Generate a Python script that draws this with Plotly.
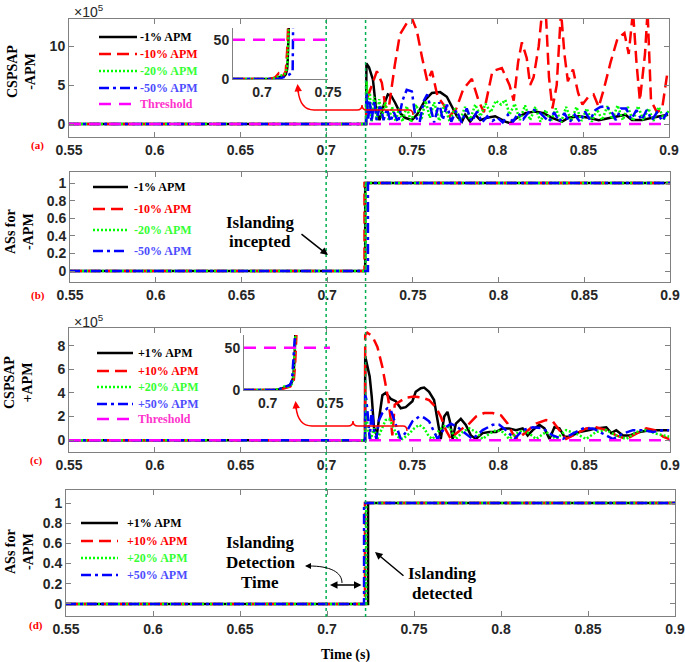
import plotly.graph_objects as go

# ---------------- DATA ----------------
t_start, t_end = 0.55, 0.9
threshold = 50          # raw units
scale = 1e5             # main CSPSAP axes are x10^5
x_ticks = [0.55, 0.6, 0.65, 0.7, 0.75, 0.8, 0.85, 0.9]
x_ticktext = ["0.55", "0.6", "0.65", "0.7", "0.75", "0.8", "0.85", "0.9"]
as_ticks = [0, 0.2, 0.4, 0.6, 0.8, 1]
as_ticktext = ["0", "0.2", "0.4", "0.6", "0.8", "1"]
islanding_t = 0.7
detection_t = 0.723

# (a) CSPSAP for -APM  (x10^5)
a_black_t = [0.55, 0.7233, 0.7235, 0.7250, 0.7273, 0.7292, 0.7311, 0.7340, 0.7360, 0.7380, 0.7403, 0.7432, 0.7461, 0.7500, 0.7530, 0.7578, 0.7617, 0.7665, 0.7704, 0.7734, 0.7763, 0.7792, 0.7811, 0.7840, 0.7870, 0.7899, 0.7938, 0.7986, 0.8045, 0.8074, 0.8113, 0.8162, 0.8220, 0.8269, 0.8318, 0.8376, 0.8415, 0.8474, 0.8532, 0.8590, 0.8649, 0.8707, 0.8746, 0.8784, 0.8843, 0.8901, 0.8960, 0.8995]
a_black_v = [0, 0, 7.8, 7.3, 5.7, 1.8, 0.5, 2.7, 3.8, 3.6, 2.7, 1.4, 0.8, 0.5, 1.2, 3.1, 4.0, 4.1, 3.5, 2.2, 1.0, 0.3, 1.2, 0.3, 1.2, 0.5, 0.8, 1.0, 0.3, 0.1, 0.8, 1.4, 1.6, 1.4, 0.8, 0.3, 0.8, 1.0, 0.8, 0.5, 0.8, 1.0, 1.2, 0.5, 0.5, 0.8, 1.0, 1.2]
a_red_t = [0.55, 0.7233, 0.7236, 0.7296, 0.7325, 0.7345, 0.7365, 0.7400, 0.7430, 0.7471, 0.7500, 0.7529, 0.7560, 0.7590, 0.7617, 0.7650, 0.7685, 0.7720, 0.7760, 0.7800, 0.7850, 0.7889, 0.7920, 0.7970, 0.8025, 0.8070, 0.8094, 0.8120, 0.8142, 0.8170, 0.8190, 0.8210, 0.8240, 0.8260, 0.8280, 0.8300, 0.8320, 0.8345, 0.8370, 0.8390, 0.8410, 0.8440, 0.8470, 0.8495, 0.8530, 0.8560, 0.8590, 0.8620, 0.8660, 0.8700, 0.8740, 0.8765, 0.8790, 0.8810, 0.8830, 0.8860, 0.8875, 0.8895, 0.8930, 0.8960, 0.8990]
a_red_v = [0, 0, 3.1, 6.8, 5.3, 2.3, 2.0, 7.5, 11.5, 13.0, 13.6, 12.0, 8.5, 5.5, 6.8, 3.5, 2.5, 1.0, 2.0, 4.5, 5.8, 3.0, 1.5, 6.8, 7.2, 5.0, 3.0, 8.0, 10.5, 8.5, 5.0, 6.0, 10.0, 14.5, 15.0, 6.0, 2.0, 5.0, 14.5, 9.0, 5.5, 7.0, 4.0, 2.5, 3.5, 3.8, 2.2, 4.5, 8.0, 11.0, 11.7, 9.0, 14.5, 8.0, 3.0, 9.0, 14.5, 3.0, 1.5, 2.0, 6.5]
a_green_t = [0.55, 0.7233, 0.7236, 0.7245, 0.7255, 0.7265, 0.7280, 0.7295, 0.7310, 0.7325, 0.7345, 0.7365, 0.7385, 0.7405, 0.7425, 0.7445, 0.7470, 0.7495, 0.7525, 0.7555, 0.7580, 0.7605, 0.7630, 0.7660, 0.7690, 0.7720, 0.7750, 0.7780, 0.7810, 0.7840, 0.7870, 0.7900, 0.7930, 0.7960, 0.7990, 0.8020, 0.8045, 0.8070, 0.8100, 0.8130, 0.8160, 0.8190, 0.8220, 0.8250, 0.8280, 0.8310, 0.8340, 0.8370, 0.8400, 0.8430, 0.8460, 0.8490, 0.8520, 0.8550, 0.8580, 0.8610, 0.8640, 0.8670, 0.8700, 0.8730, 0.8760, 0.8790, 0.8820, 0.8850, 0.8880, 0.8910, 0.8940, 0.8970, 0.9000]
a_green_v = [0, 0, 5.5, 2.0, 4.0, 0.3, 3.5, 0.5, 3.2, 0.8, 2.8, 0.5, 2.2, 0.3, 2.0, 0.3, 2.3, 0.2, 2.5, 0.5, 3.0, 0.8, 2.8, 0.4, 2.5, 0.3, 2.0, 0.4, 2.2, 0.6, 2.5, 1.0, 2.6, 1.5, 3.0, 2.5, 3.1, 1.2, 2.6, 0.5, 2.4, 0.5, 2.2, 0.3, 1.8, 0.3, 2.0, 0.2, 2.2, 0.4, 2.2, 0.4, 2.0, 0.3, 1.9, 0.5, 2.3, 0.6, 2.4, 0.5, 2.2, 0.4, 2.3, 0.5, 2.0, 0.4, 2.2, 0.6, 1.8]
a_blue_t = [0.55, 0.7233, 0.7236, 0.7245, 0.7255, 0.7265, 0.7280, 0.7295, 0.7315, 0.7335, 0.7355, 0.7375, 0.7395, 0.7420, 0.7445, 0.7470, 0.7500, 0.7520, 0.7545, 0.7570, 0.7590, 0.7610, 0.7630, 0.7660, 0.7680, 0.7705, 0.7730, 0.7760, 0.7790, 0.7820, 0.7850, 0.7880, 0.7910, 0.7940, 0.7970, 0.8000, 0.8030, 0.8060, 0.8090, 0.8120, 0.8150, 0.8180, 0.8210, 0.8240, 0.8270, 0.8300, 0.8330, 0.8360, 0.8390, 0.8420, 0.8450, 0.8480, 0.8510, 0.8540, 0.8570, 0.8600, 0.8630, 0.8660, 0.8690, 0.8720, 0.8750, 0.8780, 0.8810, 0.8840, 0.8870, 0.8900, 0.8930, 0.8960, 0.8990]
a_blue_v = [0, 0, 4.0, 0.5, 3.0, 0.3, 3.0, 0.5, 2.5, 0.5, 2.0, 0.3, 1.5, 0.2, 3.0, 4.4, 4.2, 1.0, 0.2, 3.0, 3.8, 2.0, 0.2, 2.8, 0.5, 2.5, 0.3, 1.8, 0.2, 2.0, 0.3, 1.6, 0.2, 1.0, 0.4, 0.8, 0.2, 1.2, 0.3, 1.4, 0.6, 1.5, 1.8, 1.6, 1.0, 0.3, 1.5, 0.3, 1.4, 0.2, 1.2, 0.3, 1.6, 0.5, 1.8, 2.2, 2.3, 1.8, 0.5, 2.0, 2.0, 0.6, 1.8, 0.5, 1.8, 0.5, 1.5, 0.4, 1.5]

# (a) inset (raw units)
ia_black_t = [0.678, 0.705, 0.709, 0.712, 0.715, 0.717, 0.718, 0.719, 0.7195, 0.720, 0.7205]
ia_black_v = [0, 0, 1, 2, 3, 4, 6, 12, 25, 45, 80]
ia_red_t = [0.678, 0.706, 0.710, 0.7125, 0.714, 0.716, 0.718, 0.7185, 0.719, 0.7195, 0.720]
ia_red_v = [0, 0, 2, 7, 3, 4, 10, 20, 35, 55, 80]
ia_green_t = [0.678, 0.706, 0.709, 0.712, 0.715, 0.717, 0.718, 0.719, 0.7195, 0.720, 0.7205]
ia_green_v = [0, 0, 1, 3, 4, 6, 8, 15, 30, 55, 80]
ia_blue_t = [0.678, 0.712, 0.716, 0.720, 0.7225, 0.7232, 0.7234, 0.7236]
ia_blue_v = [0, 0, 2, 5, 8, 10, 40, 80]

# (b) ASs for -APM : step instants
b_black_t = [0.55, 0.7222, 0.7222, 0.9]
b_red_t = [0.55, 0.7218, 0.7218, 0.9]
b_green_t = [0.55, 0.7225, 0.7225, 0.9]
b_blue_t = [0.55, 0.7238, 0.7238, 0.9]
as_v = [0, 0, 1, 1]

# (c) CSPSAP for +APM (x10^5)
c_black_t = [0.55, 0.7224, 0.7225, 0.7237, 0.7251, 0.7263, 0.7276, 0.7292, 0.7305, 0.7325, 0.7344, 0.7374, 0.7403, 0.7432, 0.7461, 0.7500, 0.7519, 0.7549, 0.7568, 0.7597, 0.7626, 0.7646, 0.7665, 0.7685, 0.7704, 0.7718, 0.7734, 0.7753, 0.7782, 0.7811, 0.7841, 0.7870, 0.7909, 0.7948, 0.7987, 0.8025, 0.8064, 0.8103, 0.8142, 0.8171, 0.8201, 0.8239, 0.8269, 0.8298, 0.8327, 0.8356, 0.8385, 0.8415, 0.8473, 0.8531, 0.8570, 0.8629, 0.8658, 0.8687, 0.8726, 0.8765, 0.8823, 0.8882, 0.8940, 0.8995]
c_black_v = [0, 0, 7.1, 6.2, 5.4, 3.7, 1.1, 0.4, 1.7, 3.8, 4.0, 3.5, 3.3, 2.7, 2.8, 3.3, 4.1, 4.4, 4.45, 4.1, 3.4, 1.7, 0.1, 2.0, 2.4, 1.6, 0.1, 1.4, 1.8, 1.3, 0.4, 0.1, 0.6, 0.7, 0.7, 1.0, 1.0, 0.85, 1.0, 0.4, 0.85, 1.3, 1.0, 0.1, 1.1, 1.0, 0.3, 0.3, 0.7, 0.85, 1.0, 1.1, 0.6, 0.85, 0.4, 0.4, 0.7, 0.85, 0.85, 0.85]
c_red_t = [0.55, 0.7224, 0.7225, 0.7237, 0.7267, 0.7296, 0.7325, 0.7344, 0.7360, 0.7374, 0.7383, 0.7397, 0.7432, 0.7461, 0.7510, 0.7558, 0.7597, 0.7636, 0.7665, 0.7695, 0.7724, 0.7753, 0.7792, 0.7831, 0.7870, 0.7918, 0.7967, 0.8016, 0.8055, 0.8084, 0.8113, 0.8162, 0.8220, 0.8278, 0.8317, 0.8356, 0.8395, 0.8454, 0.8512, 0.8570, 0.8629, 0.8687, 0.8745, 0.8804, 0.8862, 0.8911, 0.8960, 0.8995]
c_red_v = [0, 0, 8.9, 9.1, 8.8, 7.9, 6.2, 4.5, 3.4, 1.7, 0.4, 3.0, 3.3, 3.6, 3.7, 3.6, 3.4, 2.8, 2.0, 0.85, 0.1, 0.55, 1.0, 1.4, 2.0, 2.3, 2.3, 2.1, 1.4, 0.55, 0.1, 0.7, 1.4, 1.7, 1.6, 0.85, 0.1, 0.55, 1.0, 1.1, 0.85, 0.4, 0.1, 0.55, 1.0, 0.85, 0.3, 0.1]
c_green_t = [0.55, 0.7224, 0.7228, 0.7243, 0.7257, 0.7276, 0.7296, 0.7325, 0.7344, 0.7364, 0.7383, 0.7412, 0.7442, 0.7481, 0.7510, 0.7539, 0.7568, 0.7597, 0.7617, 0.7656, 0.7685, 0.7714, 0.7753, 0.7792, 0.7831, 0.7870, 0.7909, 0.7948, 0.7987, 0.8025, 0.8064, 0.8103, 0.8142, 0.8181, 0.8220, 0.8278, 0.8337, 0.8395, 0.8454, 0.8512, 0.8570, 0.8629, 0.8687, 0.8745, 0.8804, 0.8862, 0.8921, 0.8995]
c_green_v = [0, 0, 2.3, 0.85, 0.1, 1.0, 0.1, 1.0, 1.7, 1.8, 1.3, 0.3, 0.1, 0.55, 1.0, 1.3, 1.0, 0.3, 0.1, 0.85, 1.2, 1.1, 0.1, 0.7, 1.0, 0.7, 0.1, 0.55, 0.85, 0.7, 0.1, 0.55, 0.85, 0.55, 0.1, 0.7, 0.1, 0.85, 0.55, 0.1, 0.7, 0.85, 0.4, 0.1, 0.7, 0.85, 0.55, 0.3]
c_blue_t = [0.55, 0.7224, 0.7225, 0.7231, 0.7243, 0.7251, 0.7263, 0.7276, 0.7290, 0.7305, 0.7325, 0.7354, 0.7374, 0.7403, 0.7432, 0.7471, 0.7500, 0.7539, 0.7568, 0.7597, 0.7626, 0.7646, 0.7685, 0.7724, 0.7763, 0.7811, 0.7850, 0.7909, 0.7967, 0.8006, 0.8045, 0.8094, 0.8142, 0.8201, 0.8259, 0.8317, 0.8376, 0.8434, 0.8493, 0.8551, 0.8609, 0.8668, 0.8726, 0.8784, 0.8843, 0.8901, 0.8960, 0.8995]
c_blue_v = [0, 0, 3.8, 3.5, 1.7, 0.1, 2.6, 0.85, 0.1, 1.7, 2.3, 2.7, 2.55, 1.4, 0.1, 0.85, 1.6, 2.0, 1.9, 1.6, 0.7, 0.1, 1.0, 1.4, 1.1, 0.55, 0.1, 0.85, 1.3, 1.3, 0.85, 0.1, 0.85, 1.1, 1.0, 0.4, 0.1, 0.55, 1.0, 1.0, 0.55, 0.1, 0.55, 0.85, 0.85, 0.7, 0.85, 0.85]

# (c) inset (raw units)
ic_black_t = [0.681, 0.705, 0.710, 0.714, 0.717, 0.719, 0.7205, 0.7215, 0.722, 0.7225]
ic_black_v = [0, 0, 1, 3, 5, 8, 15, 35, 55, 80]
ic_red_t = [0.681, 0.706, 0.711, 0.715, 0.718, 0.720, 0.721, 0.722, 0.7228, 0.7235]
ic_red_v = [0, 0, 1, 3, 4, 6, 12, 30, 55, 80]
ic_green_t = [0.681, 0.706, 0.711, 0.714, 0.717, 0.7195, 0.7205, 0.7215, 0.722, 0.7228]
ic_green_v = [0, 0, 2, 5, 4, 7, 14, 35, 55, 80]
ic_blue_t = [0.681, 0.704, 0.709, 0.713, 0.716, 0.718, 0.7195, 0.7205, 0.7215, 0.7225]
ic_blue_v = [0, 0, 1, 3, 5, 6, 12, 30, 55, 80]

# (d) ASs for +APM : step instants
d_black_t = [0.55, 0.7236, 0.7236, 0.9]
d_red_t = [0.55, 0.7218, 0.7218, 0.9]
d_green_t = [0.55, 0.7225, 0.7225, 0.9]
d_blue_t = [0.55, 0.7213, 0.7213, 0.9]

neg_labels = ["-1% APM", "-10% APM", "-20% APM", "-50% APM", "Threshold"]
pos_labels = ["+1% APM", "+10% APM", "+20% APM", "+50% APM", "Threshold"]

# ---------------- STYLE ----------------
W, H = 685, 662
def px(x): return x / W
def py(y): return 1 - y / H

BLACK, RED, GREEN, BLUE, MAG = "#000000", "#ff0000", "#00ff00", "#0000ff", "#ff00ff"
TXT_COL = ["#000000", "#ff0000", "#33ff33", "#4d4dff", "#ff33cc"]
STY = [
    dict(color=BLACK, dash="solid", width=2.5),
    dict(color=RED, dash="12px,6px", width=2.5),
    dict(color=GREEN, dash="2px,2px", width=2.5),
    dict(color=BLUE, dash="10px,4px,3px,4px", width=2.5),
    dict(color=MAG, dash="12px,8px", width=2.5),
]
SERIF = "Liberation Serif"
SANS = "Liberation Sans"

fig = go.Figure()

def add(x, y, xa, ya, k):
    fig.add_trace(go.Scatter(x=x, y=y, xaxis=xa, yaxis=ya, mode="lines",
                             line=STY[k], showlegend=False, hoverinfo="skip"))

# (a)
for k, (tt, vv) in enumerate([(a_black_t, a_black_v), (a_red_t, a_red_v), (a_green_t, a_green_v), (a_blue_t, a_blue_v)]):
    add(tt, vv, "x", "y", k)
add([t_start, t_end], [threshold / scale] * 2, "x", "y", 4)
# (a) inset
for k, (tt, vv) in enumerate([(ia_black_t, ia_black_v), (ia_red_t, ia_red_v), (ia_green_t, ia_green_v), (ia_blue_t, ia_blue_v)]):
    add(tt, vv, "x5", "y5", k)
add([0.678, 0.75], [threshold, threshold], "x5", "y5", 4)
# (b)
for k, tt in enumerate([b_black_t, b_red_t, b_green_t, b_blue_t]):
    add(tt, as_v, "x2", "y2", k)
# (c)
for k, (tt, vv) in enumerate([(c_black_t, c_black_v), (c_red_t, c_red_v), (c_green_t, c_green_v), (c_blue_t, c_blue_v)]):
    add(tt, vv, "x3", "y3", k)
add([t_start, t_end], [threshold / scale] * 2, "x3", "y3", 4)
# (c) inset
for k, (tt, vv) in enumerate([(ic_black_t, ic_black_v), (ic_red_t, ic_red_v), (ic_green_t, ic_green_v), (ic_blue_t, ic_blue_v)]):
    add(tt, vv, "x6", "y6", k)
add([0.681, 0.75], [threshold, threshold], "x6", "y6", 4)
# (d)
for k, tt in enumerate([d_black_t, d_red_t, d_green_t, d_blue_t]):
    add(tt, as_v, "x4", "y4", k)

tickfont = dict(family=SANS, size=14, color="#262626", weight="bold")
axc = dict(showline=True, linecolor="#808080", linewidth=1, mirror="ticks", ticks="inside",
           ticklen=5, tickcolor="#808080", showgrid=False, zeroline=False, tickfont=tickfont,
           automargin=False)
xc = dict(axc, range=[t_start, t_end], tickvals=x_ticks, ticktext=x_ticktext)
insc = dict(showline=True, linecolor="#808080", linewidth=1, mirror=False, ticks="",
            showgrid=False, zeroline=False, tickfont=tickfont, automargin=False)

fig.update_layout(
    width=W, height=H, margin=dict(l=0, r=0, t=0, b=0, autoexpand=False),
    paper_bgcolor="white", plot_bgcolor="white", showlegend=False,
    xaxis=dict(xc, domain=[px(69), px(669)], anchor="y"),
    yaxis=dict(axc, domain=[py(137), py(19)], anchor="x", range=[-1.67, 13.5], tickvals=[0, 5, 10]),
    xaxis2=dict(xc, domain=[px(70), px(670)], anchor="y2"),
    yaxis2=dict(axc, domain=[py(282), py(172)], anchor="x2", range=[-0.125, 1.125], tickvals=as_ticks, ticktext=as_ticktext),
    xaxis3=dict(xc, domain=[px(69), px(670)], anchor="y3"),
    yaxis3=dict(axc, domain=[py(452), py(328)], anchor="x3", range=[-1.0, 9.5], tickvals=[0, 2, 4, 6, 8]),
    xaxis4=dict(xc, domain=[px(66), px(675)], anchor="y4"),
    yaxis4=dict(axc, domain=[py(616), py(490)], anchor="x4", range=[-0.12, 1.13], tickvals=as_ticks, ticktext=as_ticktext),
    xaxis5=dict(insc, domain=[px(233), px(328)], anchor="y5", range=[0.678, 0.75], tickvals=[0.7, 0.75], ticktext=["0.7", "0.75"]),
    yaxis5=dict(insc, domain=[py(79), py(28)], anchor="x5", range=[0, 65], tickvals=[0, 50]),
    xaxis6=dict(insc, domain=[px(244), px(330)], anchor="y6", range=[0.681, 0.75], tickvals=[0.7, 0.75], ticktext=["0.7", "0.75"]),
    yaxis6=dict(insc, domain=[py(390), py(335)], anchor="x6", range=[0, 65], tickvals=[0, 50]),
)

shapes = []
ann = []

# green vertical dotted lines spanning all panels
for tv in [islanding_t, detection_t]:
    shapes.append(dict(type="line", xref="x", yref="paper", x0=tv, x1=tv, y0=py(617), y1=py(18),
                       line=dict(color="#00b050", width=1.5, dash="dot")))

# legends
def legend(rows_y, x0, x1, xt, labels):
    for k, (yy, lab) in enumerate(zip(rows_y, labels)):
        shapes.append(dict(type="line", xref="paper", yref="paper", x0=px(x0), x1=px(x1),
                           y0=py(yy), y1=py(yy), line=STY[k]))
        ann.append(dict(x=px(xt), y=py(yy), xref="paper", yref="paper", text=lab, showarrow=False,
                        xanchor="left", yanchor="middle",
                        font=dict(family=SERIF, size=12, color=TXT_COL[k], weight="bold")))

legend([37, 54, 71, 88, 104], 99, 137, 138, neg_labels)
legend([187, 209, 230, 251], 93, 128, 132, neg_labels[:4])
legend([353, 371, 387, 404, 419], 97, 133, 136, pos_labels)
legend([523, 541, 558, 575], 81, 118, 125, pos_labels[:4])

def path(cmds):
    s = ""
    for c in cmds:
        op, nums = c[0], c[1:]
        pts = []
        for i in range(0, len(nums), 2):
            pts.append(f"{px(nums[i]):.5f},{py(nums[i+1]):.5f}")
        s += op + " " + " ".join(pts) + " "
    return s.strip()

# red braces + arrows to insets
shapes.append(dict(type="path", xref="paper", yref="paper", line=dict(color=RED, width=1.5),
                   path=path([("M", 298, 90), ("Q", 300, 110, 314, 110), ("L", 357, 110),
                              ("Q", 362, 110, 362, 105), ("Q", 362, 110, 367, 110), ("L", 409, 110),
                              ("Q", 413, 110, 413, 115)])))
shapes.append(dict(type="path", xref="paper", yref="paper", line=dict(color=RED, width=1.5),
                   path=path([("M", 296, 407), ("Q", 298, 426, 312, 426), ("L", 348, 426),
                              ("Q", 353, 426, 353, 421), ("Q", 353, 426, 358, 426), ("L", 403, 426),
                              ("Q", 407, 426, 407, 431)])))
for tipx, tipy in [(297.5, 84), (295.5, 401)]:
    ann.append(dict(x=px(tipx), y=py(tipy), xref="paper", yref="paper", text="", showarrow=True,
                    ax=1, ay=10, arrowcolor=RED, arrowwidth=1.5, arrowhead=2, arrowsize=1))

# curved black arrow in (d)
shapes.append(dict(type="path", xref="paper", yref="paper", line=dict(color=BLACK, width=1),
                   path=path([("M", 342, 583), ("C", 342, 572, 330, 566, 309, 566)])))
ann.append(dict(x=px(305), y=py(566), xref="paper", yref="paper", text="", showarrow=True,
                ax=7, ay=0, arrowcolor=BLACK, arrowwidth=1, arrowhead=2, arrowsize=1.2))
# double arrow (detection time)
ann.append(dict(x=px(330), y=py(585), xref="paper", yref="paper", text="", showarrow=True,
                ax=33, ay=0, arrowcolor=BLACK, arrowwidth=1.5, arrowhead=2, startarrowhead=2,
                arrowside="end+start", arrowsize=1, startarrowsize=1))
# islanding incepted arrow
ann.append(dict(x=px(328), y=py(255), xref="paper", yref="paper", text="", showarrow=True,
                ax=-28, ay=-22, arrowcolor=BLACK, arrowwidth=1.5, arrowhead=2, arrowsize=1))
# islanding detected arrow
ann.append(dict(x=px(375), y=py(552), xref="paper", yref="paper", text="", showarrow=True,
                ax=30, ay=25, arrowcolor=BLACK, arrowwidth=1.5, arrowhead=2, arrowsize=1))

def txt(x, y, s, size, family=SERIF, color=BLACK, bold=True, angle=0, xanchor="center"):
    ann.append(dict(x=px(x), y=py(y), xref="paper", yref="paper", text=s, showarrow=False,
                    xanchor=xanchor, yanchor="middle", textangle=angle,
                    font=dict(family=family, size=size, color=color, weight="bold" if bold else "normal")))

txt(260, 222, "Islanding", 17)
txt(260, 242, "incepted", 17)
txt(260, 542, "Islanding", 17)
txt(260, 562, "Detection", 17)
txt(260, 582, "Time", 17)
txt(442, 573, "Islanding", 17)
txt(442, 593, "detected", 17)

# axis titles
txt(22, 72, "CSPSAP<br>-APM", 14, angle=-90)
txt(20, 232, "ASs for<br>-APM", 14, angle=-90)
txt(18, 383, "CSPSAP<br>+APM", 14, angle=-90)
txt(19, 552, "ASs for<br>-APM", 14, angle=-90)
txt(345, 655, "Time (s)", 14)

# exponent labels
txt(72, 11, "×10<sup>5</sup>", 14, family=SANS, color="#262626", bold=False, xanchor="left")
txt(72, 321, "×10<sup>5</sup>", 14, family=SANS, color="#262626", bold=False, xanchor="left")

# panel labels
txt(37.5, 145, "(a)", 11, color=RED)
txt(37.5, 295, "(b)", 11, color=RED)
txt(36, 460, "(c)", 11, color=RED)
txt(35.5, 625, "(d)", 11, color=RED)

fig.update_layout(shapes=shapes, annotations=ann)
fig.write_html("out.html", config={"displayModeBar": False},
               post_script="document.body.style.margin='0px';document.body.style.overflow='hidden';")
